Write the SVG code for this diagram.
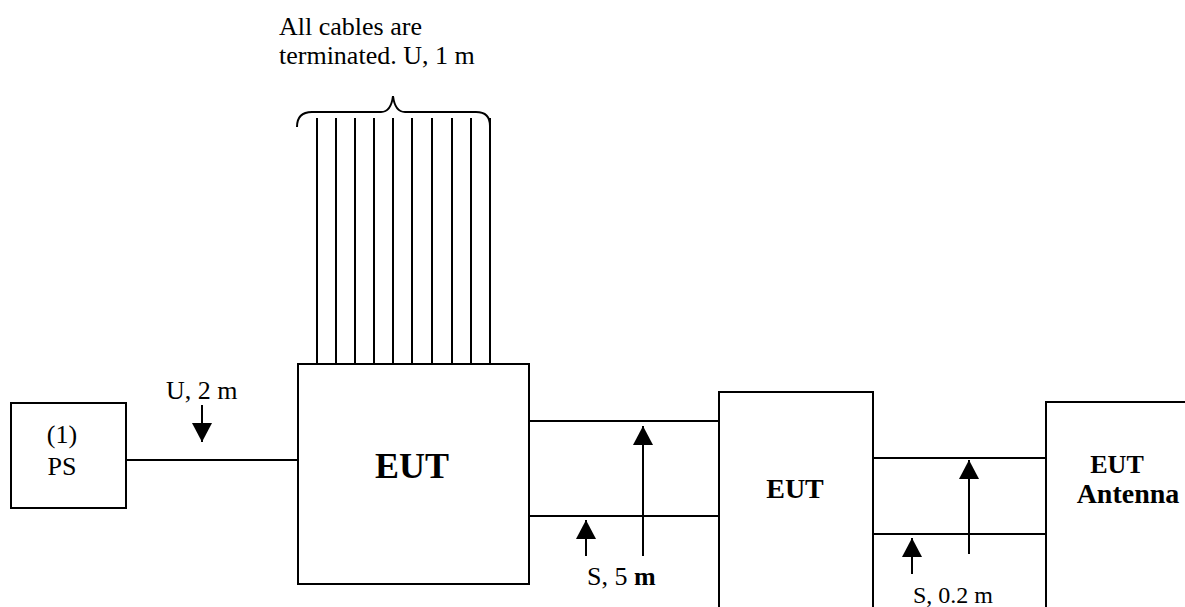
<svg xmlns="http://www.w3.org/2000/svg" width="1185" height="607" viewBox="0 0 1185 607">
  <style>
    .box { fill: #fff; stroke: #000; stroke-width: 2; }
    .ln { fill: none; stroke: #000; stroke-width: 2; }
    .t { font-family: "Liberation Serif", "Times New Roman", serif; font-size: 26px; fill: #000; }
    .b { font-weight: bold; }
  </style>
  <defs>
    <marker id="ah" markerUnits="userSpaceOnUse" markerWidth="20" markerHeight="20" viewBox="0 0 19 20" refX="19" refY="10" orient="auto">
      <path d="M0,0 L19,10 L0,20 z" fill="#000"/>
    </marker>
  </defs>
  <rect width="1185" height="607" fill="#fff"/>

  <g id="connectors">
    <line class="ln" x1="126" y1="460" x2="298" y2="460"/>
    <line class="ln" x1="529" y1="421" x2="719" y2="421"/>
    <line class="ln" x1="529" y1="516" x2="719" y2="516"/>
    <line class="ln" x1="873" y1="458" x2="1046" y2="458"/>
    <line class="ln" x1="873" y1="534" x2="1046" y2="534"/>
    <g id="cable-bundle">
      <line class="ln" x1="317" y1="118" x2="317" y2="364"/>
      <line class="ln" x1="336" y1="118" x2="336" y2="364"/>
      <line class="ln" x1="355" y1="118" x2="355" y2="364"/>
      <line class="ln" x1="374" y1="118" x2="374" y2="364"/>
      <line class="ln" x1="393" y1="118" x2="393" y2="364"/>
      <line class="ln" x1="412" y1="118" x2="412" y2="364"/>
      <line class="ln" x1="432" y1="118" x2="432" y2="364"/>
      <line class="ln" x1="452" y1="118" x2="452" y2="364"/>
      <line class="ln" x1="471" y1="118" x2="471" y2="364"/>
      <line class="ln" x1="490" y1="118" x2="490" y2="364"/>
      <path class="ln" d="M297,127 Q297,112 312,112 L381,112 Q391,112 393,96 Q395,112 405,112 L476,112 Q490,112 490,126"/>
    </g>
    <line class="ln" x1="202" y1="405" x2="202" y2="442" marker-end="url(#ah)"/>
    <line class="ln" x1="586" y1="556" x2="586" y2="520" marker-end="url(#ah)"/>
    <line class="ln" x1="643" y1="556" x2="643" y2="426" marker-end="url(#ah)"/>
    <line class="ln" x1="912" y1="574" x2="912" y2="538" marker-end="url(#ah)"/>
    <line class="ln" x1="969" y1="554" x2="969" y2="460" marker-end="url(#ah)"/>
  </g>

  <g id="ps">
    <rect class="box" x="11" y="403" width="115" height="105"/>
    <text class="t" x="62" y="443" text-anchor="middle">(1)</text>
    <text class="t" x="62" y="475" text-anchor="middle">PS</text>
  </g>

  <g id="eut1">
    <rect class="box" x="298" y="364" width="231" height="220"/>
    <text class="t b" x="412" y="478" text-anchor="middle" style="font-size:36px">EUT</text>
  </g>

  <g id="eut2">
    <rect class="box" x="719" y="392" width="154" height="240"/>
    <text class="t b" x="795" y="498" text-anchor="middle" style="font-size:28px">EUT</text>
  </g>

  <g id="eut-antenna">
    <rect class="box" x="1046" y="402" width="160" height="240"/>
    <text class="t b" x="1117" y="473" text-anchor="middle" style="font-size:26px">EUT</text>
    <text class="t b" x="1128" y="503" text-anchor="middle" style="font-size:28px">Antenna</text>
  </g>

  <g id="labels">
    <text class="t" x="279" y="35">All cables are</text>
    <text class="t" x="279" y="64">terminated. U, 1 m</text>
    <text class="t" x="166" y="399">U, 2 m</text>
    <text class="t" x="587" y="585">S, 5 <tspan class="b">m</tspan></text>
    <text class="t" x="913" y="603" style="font-size:24px">S, 0.2 m</text>
  </g>
</svg>
